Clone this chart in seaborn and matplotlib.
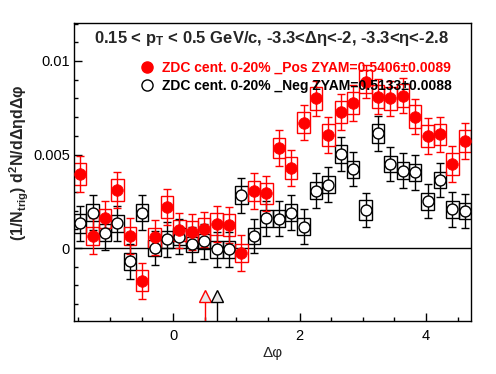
import numpy as np
import pandas as pd
import matplotlib
matplotlib.use("Agg")
import matplotlib.pyplot as plt
from matplotlib.patches import Rectangle
from matplotlib.lines import Line2D
from matplotlib.ticker import MultipleLocator, FuncFormatter
import seaborn as sns

# 32 bins in delta phi from -pi/2 to 3pi/2
n_bins = 32
phi_lo, phi_hi = -np.pi / 2, 3 * np.pi / 2

# Pos ZDC (red, filled)
pos_vals = [0.00396, 0.00064, 0.00159, 0.00310, 0.00064, -0.00175, 0.00057, 0.00220,
            0.00095, 0.00087, 0.00100, 0.00128, 0.00124, -0.00027, 0.00306, 0.00292,
            0.00535, 0.00428, 0.00670, 0.00800, 0.00604, 0.00727, 0.00774, 0.00890,
            0.00809, 0.00800, 0.00815, 0.00702, 0.00599, 0.00608, 0.00449, 0.00572]
pos_err = [0.00095, 0.00095, 0.00095, 0.00095, 0.00095, 0.00095, 0.00095, 0.00095,
           0.00095, 0.00095, 0.00095, 0.00095, 0.00095, 0.00095, 0.00095, 0.00095,
           0.00095, 0.00095, 0.00095, 0.00095, 0.00095, 0.00095, 0.00095, 0.00090,
           0.00095, 0.00095, 0.00095, 0.00095, 0.00095, 0.00095, 0.00095, 0.00095]
pos_sys = [0.00060, 0.00050, 0.00050, 0.00060, 0.00050, 0.00055, 0.00050, 0.00060,
           0.00055, 0.00055, 0.00060, 0.00060, 0.00060, 0.00050, 0.00055, 0.00055,
           0.00055, 0.00060, 0.00055, 0.00060, 0.00060, 0.00060, 0.00060, 0.00060,
           0.00060, 0.00060, 0.00060, 0.00060, 0.00060, 0.00055, 0.00060, 0.00060]

# Neg ZDC (black, open)
neg_vals = [0.00132, 0.00189, 0.00082, 0.00132, -0.00070, 0.00189, 0.00000, 0.00046,
            0.00060, 0.00020, 0.00037, -0.00007, -0.00007, 0.00283, 0.00064, 0.00159,
            0.00157, 0.00189, 0.00114, 0.00306, 0.00339, 0.00503, 0.00422, 0.00203,
            0.00613, 0.00449, 0.00414, 0.00405, 0.00251, 0.00364, 0.00207, 0.00198]
neg_err = [0.00093] * n_bins
neg_sys = [0.00050, 0.00045, 0.00045, 0.00045, 0.00045, 0.00045, 0.00045, 0.00045,
           0.00045, 0.00040, 0.00040, 0.00045, 0.00045, 0.00050, 0.00045, 0.00045,
           0.00045, 0.00045, 0.00045, 0.00045, 0.00045, 0.00050, 0.00045, 0.00055,
           0.00050, 0.00045, 0.00045, 0.00045, 0.00045, 0.00045, 0.00045, 0.00045]

# ZYAM positions (arrows at the bottom)
zyam_x = [0.497, 0.690]
zyam_y = -0.00257

labels = ["ZDC cent. 0-20% _Pos ZYAM=0.5406\u00b10.0089",
          "ZDC cent. 0-20% _Neg ZYAM=0.5133\u00b10.0088"]
title = "0.15 < $p_{T}$ < 0.5 GeV/c, -3.3<\u0394\u03b7<-2, -3.3<\u03b7<-2.8"

sns.set_theme(style="ticks")
plt.rcParams['font.family'] = ['Liberation Sans', 'DejaVu Sans']
plt.rcParams['mathtext.default'] = 'regular'

edges = np.linspace(phi_lo, phi_hi, n_bins + 1)
width = edges[1] - edges[0]
df = pd.DataFrame({"phi": 0.5 * (edges[:-1] + edges[1:]),
                   "pos": pos_vals, "neg": neg_vals})

fig = plt.figure(figsize=(4.96, 3.74), dpi=100)
ax = fig.add_axes([74 / 496, 1 - 321 / 374, 397 / 496, 298 / 374])

ax.axhline(0, color="black", lw=1, zorder=1)

# systematic boxes
for col, sysv, c in [("neg", neg_sys, "black"), ("pos", pos_sys, "red")]:
    for xl, v, s in zip(edges[:-1], df[col], sysv):
        ax.add_patch(Rectangle((xl, v - s), width, 2 * s, fill=False,
                               edgecolor=c, lw=1, zorder=2))

ax.errorbar(df["phi"], df["neg"], yerr=neg_err, fmt="none", ecolor="black",
            elinewidth=1, capsize=3, capthick=1, zorder=3)
ax.errorbar(df["phi"], df["pos"], yerr=pos_err, fmt="none", ecolor="red",
            elinewidth=1, capsize=3, capthick=1, zorder=3)

sns.scatterplot(data=df, x="phi", y="neg", marker="o", s=62, color="white",
                edgecolor="black", linewidth=1, ax=ax, zorder=4)
sns.scatterplot(data=df, x="phi", y="pos", marker="o", s=70, color="red",
                edgecolor="red", linewidth=0.5, ax=ax, zorder=5)

# ZYAM arrows
for xz, c in zip(zyam_x, ["red", "black"]):
    ax.plot([xz, xz], [-0.0039, zyam_y - 0.0003], color=c, lw=1, zorder=3)
    ax.plot([xz], [zyam_y], marker="^", markersize=8.5, color="#e8e8e8",
            markeredgecolor=c, markeredgewidth=1, zorder=4)

ax.set_xlim(phi_lo, phi_hi)
ax.set_ylim(-0.0039, 0.01203)

ax.xaxis.set_major_locator(MultipleLocator(2))
ax.xaxis.set_minor_locator(MultipleLocator(0.5))
ax.yaxis.set_major_locator(MultipleLocator(0.005))
ax.yaxis.set_minor_locator(MultipleLocator(0.001))
ax.yaxis.set_major_formatter(FuncFormatter(lambda v, p: "%g" % round(v, 4)))
ax.xaxis.set_major_formatter(FuncFormatter(lambda v, p: "%g" % v))
ax.tick_params(which="both", direction="in", top=False, right=False,
               colors="black", labelsize=10.5, width=1)
ax.tick_params(which="major", length=6)
ax.tick_params(which="minor", length=3)
ax.tick_params(axis="x", pad=6)
ax.tick_params(axis="y", pad=3)
for sp in ax.spines.values():
    sp.set_color("black")
    sp.set_linewidth(1)

ax.set_xlabel("\u0394\u03c6", fontsize=11)
ax.xaxis.set_label_coords(0.5, -0.083)
ax.set_ylabel("(1/N$_{trig}$) d$^{2}$N/d\u0394\u03b7d\u0394\u03c6",
              fontsize=11.5, fontweight="bold")
ax.yaxis.set_label_coords(-0.108, 0.53)

fig.text(94 / 496, 1 - 38 / 374, title, ha="left", va="center",
         fontsize=12, fontweight="bold")

handles = [Line2D([], [], ls="none", marker="o", markersize=8, color="red"),
           Line2D([], [], ls="none", marker="o", markersize=8,
                  markerfacecolor="white", markeredgecolor="black")]
leg = ax.legend(handles, labels, loc="upper left", bbox_to_anchor=(0.166, 0.872),
                frameon=False, borderpad=0, borderaxespad=0, handlelength=1,
                handletextpad=0.6, labelspacing=0.3,
                prop={"weight": "bold", "size": 10})
for t, c in zip(leg.get_texts(), ["red", "black"]):
    t.set_color(c)

fig.savefig("out.png", dpi=100)
